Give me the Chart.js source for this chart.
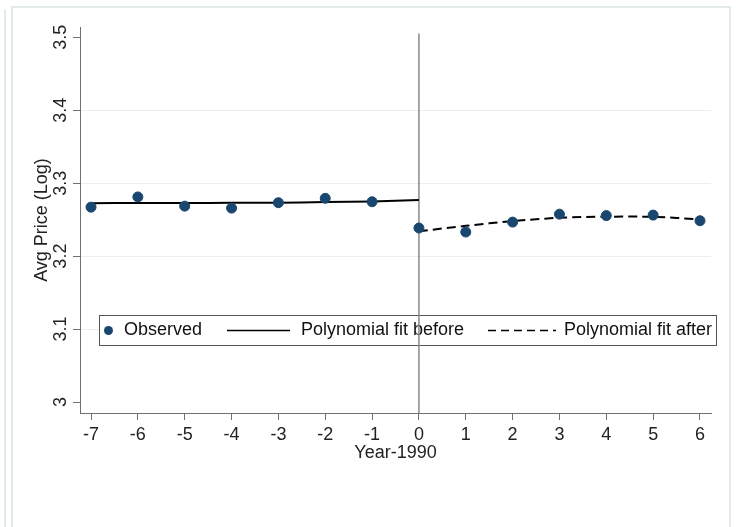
<!DOCTYPE html>
<html>
<head>
<meta charset="utf-8">
<script src="https://cdn.jsdelivr.net/npm/chart.js@4.4.1/dist/chart.umd.min.js"></script>
<style>
  html, body { margin: 0; padding: 0; background: #fff; }
  #wrap { position: relative; width: 736px; height: 527px; overflow: hidden; }
  .frame { position: absolute; border-color: #e3eaea; border-style: solid; }
  #outer { left: 4px; top: 9px; width: 0; height: 540px; border-width: 0 0 0 2px; }
  #inner { left: 11px; top: 6px; width: 716px; height: 540px; border-width: 2px 2px 0 2px; }
  canvas { position: absolute; left: 0; top: 0; }
</style>
</head>
<body>
<div id="wrap">
  <div class="frame" id="outer"></div>
  <div class="frame" id="inner"></div>
  <canvas id="chart" width="736" height="527"></canvas>
</div>
<script>
// values
const years = [-7, -6, -5, -4, -3, -2, -1, 0, 1, 2, 3, 4, 5, 6];
const observed = [3.2671, 3.2811, 3.2685, 3.2658, 3.2732, 3.2792, 3.2745,
                  3.2385, 3.2330, 3.2466, 3.2575, 3.2555, 3.2562, 3.2485];
const beforeYears = [-7, -6, -5, -4, -3, -2, -1, 0];
const fitBefore = [3.2726, 3.2727, 3.2728, 3.2730, 3.2733, 3.2740, 3.2750, 3.2768];
const afterYears = [0, 1, 2, 3, 4, 5, 6];
const fitAfter = [3.2340, 3.2415, 3.2480, 3.2525, 3.2540, 3.2538, 3.2505];
const xTicks = [-7, -6, -5, -4, -3, -2, -1, 0, 1, 2, 3, 4, 5, 6];
const yTicks = [3, 3.1, 3.2, 3.3, 3.4, 3.5];
const cutoff = [{x: 0, y: 3.505}, {x: 0, y: 2.985}];

const FONT = "'Liberation Sans', Arial, sans-serif";
const NAVY = '#1a476f';
const AXIS = '#707070';

function pairs(xs, ys) {
    return xs.map((x, i) => ({x: x, y: ys[i]}));
}

// legend box sits inside the plot, like the original
const boxLegend = {
    id: 'boxLegend',
    beforeDatasetsDraw(chart) {
        const ctx = chart.ctx;
        const ds = chart.data.datasets;
        const midY = 330.5;
        ctx.save();
        ctx.fillStyle = '#fff';
        ctx.fillRect(99, 315.5, 617, 30);
        ctx.strokeStyle = '#555';
        ctx.lineWidth = 1;
        ctx.strokeRect(99.5, 315.5, 617, 30);

        ctx.fillStyle = NAVY;
        ctx.beginPath();
        ctx.arc(108.5, midY, 4.5, 0, Math.PI * 2);
        ctx.fill();

        ctx.strokeStyle = '#000';
        ctx.lineWidth = 1.5;
        ctx.beginPath();
        ctx.moveTo(227, midY);
        ctx.lineTo(290, midY);
        ctx.stroke();

        ctx.setLineDash([8, 5]);
        ctx.beginPath();
        ctx.moveTo(488, midY);
        ctx.lineTo(556, midY);
        ctx.stroke();
        ctx.setLineDash([]);

        ctx.fillStyle = '#111';
        ctx.font = '18px ' + FONT;
        ctx.textBaseline = 'middle';
        ctx.fillText(ds[0].label, 124, midY);
        ctx.fillText(ds[1].label, 301, midY);
        ctx.fillText(ds[2].label, 564, midY);
        ctx.restore();
    }
};

new Chart(document.getElementById('chart').getContext('2d'), {
    type: 'scatter',
    data: {
        datasets: [{
            label: 'Observed',
            data: pairs(years, observed),
            backgroundColor: NAVY,
            borderColor: NAVY,
            pointRadius: 5,
            pointHoverRadius: 5,
            order: 0
        }, {
            label: 'Polynomial fit before',
            type: 'line',
            data: pairs(beforeYears, fitBefore),
            borderColor: '#000',
            borderWidth: 2,
            pointRadius: 0,
            tension: 0.3,
            order: 1
        }, {
            label: 'Polynomial fit after',
            type: 'line',
            data: pairs(afterYears, fitAfter),
            borderColor: '#000',
            borderWidth: 2,
            borderDash: [9, 5],
            pointRadius: 0,
            tension: 0.3,
            order: 1
        }, {
            label: 'cutoff',
            type: 'line',
            data: cutoff,
            borderColor: '#8a8a8a',
            borderWidth: 1.5,
            pointRadius: 0,
            order: 2
        }]
    },
    options: {
        responsive: false,
        animation: false,
        events: [],
        layout: { padding: { left: 0, top: 27, right: 25, bottom: 0 } },
        plugins: {
            legend: { display: false },
            tooltip: { enabled: false }
        },
        scales: {
            x: {
                type: 'linear',
                min: -7.235,
                max: 6.235,
                afterBuildTicks: s => { s.ticks = xTicks.map(v => ({value: v})); },
                afterFit: s => { s.height = 114; },
                grid: { drawOnChartArea: false, tickLength: 7, tickColor: AXIS },
                border: { color: AXIS, width: 1 },
                ticks: { padding: 4, color: '#222', font: { family: FONT, size: 18 } },
                title: {
                    display: true,
                    text: 'Year-1990',
                    color: '#222',
                    font: { family: FONT, size: 18 },
                    padding: { top: 0, bottom: 63 }
                }
            },
            y: {
                type: 'linear',
                min: 2.985,
                max: 3.514,
                afterBuildTicks: s => { s.ticks = yTicks.map(v => ({value: v})); },
                afterFit: s => { s.width = 80; },
                grid: {
                    color: c => (c.tick && c.tick.value > 3.05 && c.tick.value < 3.45) ? '#e6eeee' : 'rgba(0,0,0,0)',
                    tickColor: AXIS,
                    tickLength: 7
                },
                border: { color: AXIS, width: 1 },
                ticks: {
                    minRotation: 90,
                    maxRotation: 90,
                    crossAlign: 'center',
                    padding: -1,
                    color: '#222',
                    font: { family: FONT, size: 18 },
                    callback: v => String(v)
                },
                title: {
                    display: true,
                    text: 'Avg Price (Log)',
                    color: '#222',
                    font: { family: FONT, size: 18 },
                    padding: { top: 31, bottom: 0 }
                }
            }
        }
    },
    plugins: [boxLegend]
});
</script>
</body>
</html>
